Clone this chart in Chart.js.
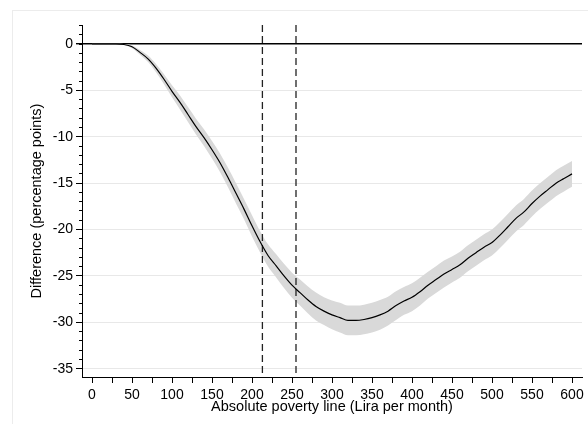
<!DOCTYPE html>
<html>
<head>
<meta charset="utf-8">
<script src="https://cdn.jsdelivr.net/npm/chart.js@4.4.1/dist/chart.umd.min.js"></script>
<style>
html,body{margin:0;padding:0;background:#fff;}
#wrap{position:relative;width:588px;height:424px;overflow:hidden;}
#frame{position:absolute;left:12px;top:10px;width:600px;height:430px;border-top:1px solid #ececec;border-left:1px solid #ececec;}
canvas{position:absolute;left:0;top:0;}
</style>
</head>
<body>
<div id="wrap"><div id="frame"></div><canvas id="c" width="588" height="424" style="width:588px;height:424px"></canvas></div>
<script>
// Absolute poverty line (Lira per month)
const povertyLine = [0,10,20,30,40,50,60,70,80,90,100,110,120,130,140,150,160,170,180,190,200,210,220,230,240,250,260,270,280,290,300,310,320,330,340,350,360,370,380,390,400,410,420,430,440,450,460,470,480,490,500,510,520,530,540,550,560,570,580,590,600];
// Difference (percentage points)
const difference = [0,0,0,0,-0.05,-0.3,-0.9,-1.6,-2.6,-3.8,-5.1,-6.3,-7.6,-8.9,-10.1,-11.4,-12.8,-14.4,-16.1,-17.8,-19.6,-21.3,-22.8,-23.9,-25.0,-26.0,-26.8,-27.6,-28.3,-28.8,-29.2,-29.5,-29.8,-29.8,-29.7,-29.5,-29.2,-28.8,-28.2,-27.7,-27.3,-26.7,-26.0,-25.4,-24.8,-24.3,-23.8,-23.1,-22.5,-21.9,-21.4,-20.6,-19.7,-18.8,-18.1,-17.2,-16.4,-15.7,-15.0,-14.5,-14.0];
const ciUpper = [0.02,0.02,0.02,0.02,0.0,-0.15,-0.65,-1.25,-2.15,-3.25,-4.45,-5.55,-6.8,-8.05,-9.2,-10.45,-11.8,-13.35,-15.0,-16.7,-18.45,-20.15,-21.6,-22.65,-23.7,-24.65,-25.4,-26.15,-26.8,-27.3,-27.65,-27.9,-28.2,-28.2,-28.1,-27.9,-27.6,-27.25,-26.65,-26.2,-25.8,-25.2,-24.55,-23.95,-23.35,-22.9,-22.4,-21.7,-21.1,-20.5,-20.0,-19.2,-18.3,-17.4,-16.7,-15.8,-15.0,-14.3,-13.6,-13.1,-12.6];
const ciLower = [-0.02,-0.02,-0.02,-0.02,-0.1,-0.45,-1.15,-1.95,-3.05,-4.35,-5.75,-7.05,-8.4,-9.75,-11.0,-12.35,-13.8,-15.45,-17.2,-18.9,-20.75,-22.45,-24.0,-25.15,-26.3,-27.35,-28.2,-29.05,-29.8,-30.3,-30.75,-31.1,-31.4,-31.4,-31.3,-31.1,-30.8,-30.35,-29.75,-29.2,-28.8,-28.2,-27.45,-26.85,-26.25,-25.7,-25.2,-24.5,-23.9,-23.3,-22.8,-22.0,-21.1,-20.2,-19.5,-18.6,-17.8,-17.1,-16.4,-15.9,-15.4];
// Vertical reference lines (Lira per month)
const referenceLines = [213, 255];
// Axis ticks
const xTickValues = [0,25,50,75,100,125,150,175,200,225,250,275,300,325,350,375,400,425,450,475,500,525,550,575,600];
const xTickLabels = ['0','','50','','100','','150','','200','','250','','300','','350','','400','','450','','500','','550','','600'];
const yTickValues = [-35,-30,-25,-20,-15,-10,-5,0];
const yTickLabels = ['-35','-30','-25','-20','-15','-10','-5','0'];
const yMinorTickValues = [-35,-34,-33,-32,-31,-30,-29,-28,-27,-26,-25,-24,-23,-22,-21,-20,-19,-18,-17,-16,-15,-14,-13,-12,-11,-10,-9,-8,-7,-6,-5,-4,-3,-2,-1,0,1,2];
const xTitle = 'Absolute poverty line (Lira per month)';
const yTitle = 'Difference (percentage points)';

const Y_MIN = -35.9, Y_MAX = 2.05;
const FONT = 'Liberation Sans, Arial, sans-serif';

const pts = (ys) => povertyLine.map((x, i) => ({x: x, y: ys[i]}));
const setTicks = (vals) => (s) => { s.ticks = vals.map(v => ({value: v})); };

const datasets = [
  {label:'ci upper', data: pts(ciUpper), borderWidth:0, pointRadius:0, backgroundColor:'#d9d9d9', fill:'+1', order:3, cubicInterpolationMode:'monotone'},
  {label:'ci lower', data: pts(ciLower), borderWidth:0, pointRadius:0, backgroundColor:'#d9d9d9', fill:false, order:3, cubicInterpolationMode:'monotone'},
  {label:'difference', data: pts(difference), borderColor:'#000', borderWidth:1.2, pointRadius:0, fill:false, order:0, cubicInterpolationMode:'monotone'}
];
referenceLines.forEach(v => datasets.push({
  label:'ref', data:[{x:v,y:Y_MAX},{x:v,y:Y_MIN}], borderColor:'#222', borderWidth:1.3,
  borderDash:[7,4], pointRadius:0, fill:false, order:1
}));

new Chart(document.getElementById('c'), {
  type:'line',
  data:{datasets},
  options:{
    responsive:false, animation:false, devicePixelRatio:1,
    layout:{padding:{left:0,right:6,top:25,bottom:0}},
    plugins:{legend:{display:false}, tooltip:{enabled:false}},
    scales:{
      x:{
        type:'linear', position:'bottom', min:-12.5, max:612.5,
        afterBuildTicks: setTicks(xTickValues),
        afterFit: s => { s.height = 47; },
        ticks:{autoSkip:false, maxRotation:0, padding:4,
          color:'#000', font:{family:FONT, size:14},
          callback: (v, i) => xTickLabels[xTickValues.indexOf(v)] ?? ''},
        grid:{drawOnChartArea:false, tickLength:6, tickColor:'#000', tickWidth:1},
        border:{color:'#000', width:1},
        title:{display:true, text:xTitle, color:'#000', font:{family:FONT, size:14.5}, padding:{top:0,bottom:8}}
      },
      y:{
        type:'linear', position:'left', min:Y_MIN, max:Y_MAX, weight:1,
        afterBuildTicks: setTicks(yTickValues),
        afterFit: s => { s.width = 82; },
        ticks:{autoSkip:false, padding:3,
          color:'#000', font:{family:FONT, size:14},
          callback: v => yTickLabels[yTickValues.indexOf(v)] ?? ''},
        grid:{drawOnChartArea:true, tickLength:6, tickColor:'#000',
          color: c => (c.tick && c.tick.value === 0 ? '#000' : '#e8e8e8'),
          lineWidth: c => (c.tick && c.tick.value === 0 ? 1.4 : 1)},
        border:{color:'#000', width:1},
        title:{display:true, text:yTitle, color:'#000', font:{family:FONT, size:14.5}, padding:{top:28,bottom:0}}
      },
      yMinor:{
        type:'linear', position:'left', min:Y_MIN, max:Y_MAX, weight:0,
        afterBuildTicks: setTicks(yMinorTickValues),
        afterFit: s => { s.width = 0; },
        ticks:{autoSkip:false, display:false},
        grid:{drawOnChartArea:false, tickLength:3, tickColor:'#000'},
        border:{display:false}
      }
    }
  }
});
</script>
</body>
</html>
